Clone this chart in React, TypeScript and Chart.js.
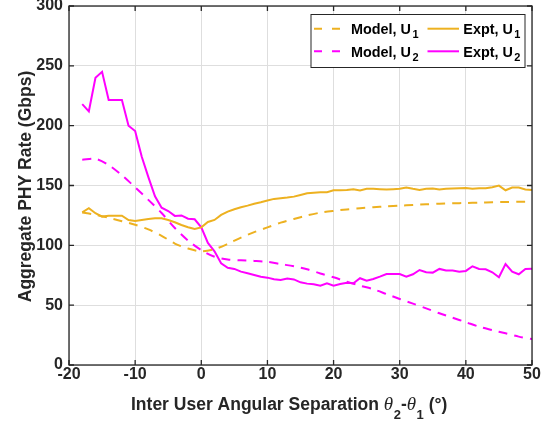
import React, { useEffect, useRef } from 'react';
import { Chart, registerables } from 'chart.js';

Chart.register(...registerables);

// ---- Data ----
const exptAngles = [
  -18, -17, -16, -15, -14, -13, -12, -11, -10, -9, -8, -7, -6, -5, -4, -3, -2, -1,
  0, 1, 2, 3, 4, 5, 6, 7, 8, 9, 10, 11, 12, 13, 14, 15, 16, 17, 18, 19, 20,
  21, 22, 23, 24, 25, 26, 27, 28, 29, 30, 31, 32, 33, 34, 35, 36, 37, 38, 39, 40,
  41, 42, 43, 44, 45, 46, 47, 48, 49, 50,
];

const exptU1 = [
  127.6, 131, 126.8, 124, 124.8, 124.8, 124.8, 121.2, 120.4, 121.2, 122, 122.6, 122.6, 121.2, 119.3, 117, 115.1, 113.7,
  115, 119.5, 121.2, 125.4, 128.2, 130.2, 131.8, 133.2, 134.8, 136, 137.4, 138.8, 139.4, 139.9, 140.7, 142.1, 143.5, 144, 144.4, 144.4, 146,
  146.1, 146.3, 146.9, 145.8, 147.2, 147.2, 146.9, 146.6, 146.9, 147.2, 148.3, 147.2, 146.3, 147.2, 147.4, 146.6, 147.2, 147.4, 147.7, 148,
  147.2, 147.7, 147.7, 148.6, 149.9, 146, 148.3, 148.3, 146.6, 146.3,
];

const exptU2 = [
  218, 212, 240, 245, 221.5, 221.5, 221.5, 200, 195.5, 174, 157, 141, 131.5, 128.7, 124.6, 125, 122.3, 121.8,
  115, 102, 95, 85, 81.3, 80.3, 78, 76.6, 75.2, 73.8, 73, 71.6, 71, 72.2, 71.5, 69.1, 68, 67.5, 66.3, 68.3, 66.3,
  67.7, 68.8, 68.3, 72.5, 70.5, 71.9, 73.8, 76, 76, 76, 73.8, 75.8, 79.4, 77.5, 77.2, 80.3, 78.9, 78.9, 78, 78.6,
  82.5, 80.3, 80, 77.5, 73.3, 84.4, 78, 75.8, 80.3, 80.5,
];

const modelAngles = [
  -18, -16, -14, -12, -10, -8, -6, -4, -2, 0, 2, 4, 6, 8, 10, 12, 14, 16, 18,
  20, 22, 24, 26, 28, 30, 32, 34, 36, 38, 40, 42, 44, 46, 48, 50,
];

const modelU1 = [
  127.5, 125.5, 123, 120.2, 117.2, 113.3, 108, 101.5, 97.3, 95, 96.8, 101.2, 106.5, 111, 115, 119, 122, 125, 127.3,
  128.8, 130, 131, 131.8, 132.5, 133.2, 133.7, 134.3, 134.8, 135.1, 135.4, 135.7, 136, 136.2, 136.4, 136.5,
];

const modelU2 = [
  171.5, 172.3, 167, 158.5, 148.5, 138, 127, 114.5, 104, 96, 90.5, 88.2, 87.5, 87, 86.2, 84.3, 82.5, 80, 76.5,
  73.3, 69.6, 66.3, 63.3, 59.3, 55.2, 51.3, 47.3, 43.2, 39.5, 35.8, 32, 29.2, 26.5, 23.7, 21.7,
];

const xTicks = [-20, -10, 0, 10, 20, 30, 40, 50];
const yTicks = [0, 50, 100, 150, 200, 250, 300];

const ORANGE = '#EDB120';
const MAGENTA = '#FF00FF';
const TEXT = '#262626';
const SANS = '"Liberation Sans", Arial, Helvetica, sans-serif';
const SERIF = '"Liberation Serif", "DejaVu Serif", serif';

const legendItems = [
  { label: 'Model, U', sub: '1', color: ORANGE, dash: [8, 10], col: 0, row: 0 },
  { label: 'Expt, U', sub: '1', color: ORANGE, dash: [], col: 1, row: 0 },
  { label: 'Model, U', sub: '2', color: MAGENTA, dash: [8, 10], col: 0, row: 1 },
  { label: 'Expt, U', sub: '2', color: MAGENTA, dash: [], col: 1, row: 1 },
];

const decorPlugin = {
  id: 'decor',
  afterDatasetsDraw(chart: any) {
    const ctx = chart.ctx as CanvasRenderingContext2D;
    const { left, right, top, bottom } = chart.chartArea;
    const xs = chart.scales.x;
    const ys = chart.scales.y;
    ctx.save();
    // frame
    ctx.strokeStyle = TEXT;
    ctx.lineWidth = 1.3;
    ctx.strokeRect(left, top, right - left, bottom - top);
    // inward ticks
    const tl = 5;
    ctx.beginPath();
    xTicks.forEach((v) => {
      const px = xs.getPixelForValue(v);
      ctx.moveTo(px, bottom);
      ctx.lineTo(px, bottom - tl);
      ctx.moveTo(px, top);
      ctx.lineTo(px, top + tl);
    });
    yTicks.forEach((v) => {
      const py = ys.getPixelForValue(v);
      ctx.moveTo(left, py);
      ctx.lineTo(left + tl, py);
      ctx.moveTo(right, py);
      ctx.lineTo(right - tl, py);
    });
    ctx.stroke();

    // legend
    const bx = 311, by = 14.5, bw = 214, bh = 53;
    ctx.fillStyle = '#ffffff';
    ctx.fillRect(bx, by, bw, bh);
    ctx.strokeStyle = TEXT;
    ctx.lineWidth = 1;
    ctx.strokeRect(bx, by, bw, bh);
    const rowY = [28.7, 51.3];
    const lineX = [[314, 341], [427.5, 459]];
    const textX = [351, 463.3];
    legendItems.forEach((it) => {
      const y = rowY[it.row];
      ctx.strokeStyle = it.color;
      ctx.lineWidth = 2;
      ctx.setLineDash(it.dash);
      ctx.beginPath();
      ctx.moveTo(lineX[it.col][0], y);
      ctx.lineTo(lineX[it.col][1], y);
      ctx.stroke();
      ctx.setLineDash([]);
      ctx.fillStyle = '#000000';
      ctx.textAlign = 'left';
      ctx.textBaseline = 'alphabetic';
      ctx.font = `bold 14.4px ${SANS}`;
      ctx.fillText(it.label, textX[it.col], y + 5.3);
      const w = ctx.measureText(it.label).width;
      ctx.font = `bold 11px ${SANS}`;
      ctx.fillText(it.sub, textX[it.col] + w + 1.5, y + 9.5);
    });

    // x axis title
    let x = 131;
    const base = 410;
    ctx.fillStyle = TEXT;
    const put = (t: string, font: string, dy = 0) => {
      ctx.font = font;
      ctx.fillText(t, x, base + dy);
      x += ctx.measureText(t).width;
    };
    const main = `bold 17.5px ${SANS}`;
    const th = `italic 19px ${SERIF}`;
    const sub = `bold 13px ${SANS}`;
    put('Inter User Angular Separation ', main);
    put('\u03B8', th);
    x += 0.5;
    put('2', sub, 9);
    put('-', main);
    put('\u03B8', th);
    x += 0.5;
    put('1', sub, 9);
    put(' (\u00B0)', main);

    // y axis title
    ctx.save();
    ctx.translate(31, 186.5);
    ctx.rotate(-Math.PI / 2);
    ctx.textAlign = 'center';
    ctx.font = main;
    ctx.fillText('Aggregate PHY Rate (Gbps)', 0, 0);
    ctx.restore();

    ctx.restore();
  },
};

export default function App() {
  const ref = useRef<HTMLCanvasElement>(null);

  useEffect(() => {
    if (!ref.current) return;
    const mk = (xs: number[], ys: number[]) => xs.map((v, i) => ({ x: v, y: ys[i] }));
    const chart = new Chart(ref.current, {
      type: 'line',
      data: {
        datasets: [
          { label: 'Model, U1', data: mk(modelAngles, modelU1), borderColor: ORANGE, borderDash: [9, 7], borderWidth: 2, pointRadius: 0, tension: 0.3 },
          { label: 'Model, U2', data: mk(modelAngles, modelU2), borderColor: MAGENTA, borderDash: [9, 7], borderWidth: 2, pointRadius: 0, tension: 0.3 },
          { label: 'Expt, U1', data: mk(exptAngles, exptU1), borderColor: ORANGE, borderWidth: 2, pointRadius: 0, tension: 0 },
          { label: 'Expt, U2', data: mk(exptAngles, exptU2), borderColor: MAGENTA, borderWidth: 2, pointRadius: 0, tension: 0 },
        ],
      },
      options: {
        responsive: false,
        animation: false,
        layout: { padding: { top: 6, right: 22, left: 0, bottom: 0 } },
        plugins: { legend: { display: false }, tooltip: { enabled: false }, title: { display: false } },
        scales: {
          x: {
            type: 'linear',
            min: -20,
            max: 50,
            afterBuildTicks: (s: any) => { s.ticks = xTicks.map((v) => ({ value: v })); },
            ticks: { color: TEXT, font: { family: SANS, size: 16, weight: 'bold' }, padding: 0, maxRotation: 0, autoSkip: false },
            grid: { color: '#dedede', lineWidth: 1, drawTicks: false },
            border: { display: false },
            afterFit: (s: any) => { s.height = 58; s.paddingLeft = 0; s.paddingRight = 0; },
          },
          y: {
            min: 0,
            max: 300,
            afterBuildTicks: (s: any) => { s.ticks = yTicks.map((v) => ({ value: v })); },
            ticks: { color: TEXT, font: { family: SANS, size: 16, weight: 'bold' }, padding: 6 },
            grid: { color: '#dedede', lineWidth: 1, drawTicks: false },
            border: { display: false },
            afterFit: (s: any) => { s.width = 69; s.paddingTop = 0; s.paddingBottom = 0; },
          },
        },
      } as any,
      plugins: [decorPlugin],
    });
    return () => chart.destroy();
  }, []);

  return (
    <div style={{ position: 'fixed', left: 0, top: 0, width: 554, height: 423, background: '#fff' }}>
      <canvas ref={ref} width={554} height={423} style={{ display: 'block' }} />
    </div>
  );
}
